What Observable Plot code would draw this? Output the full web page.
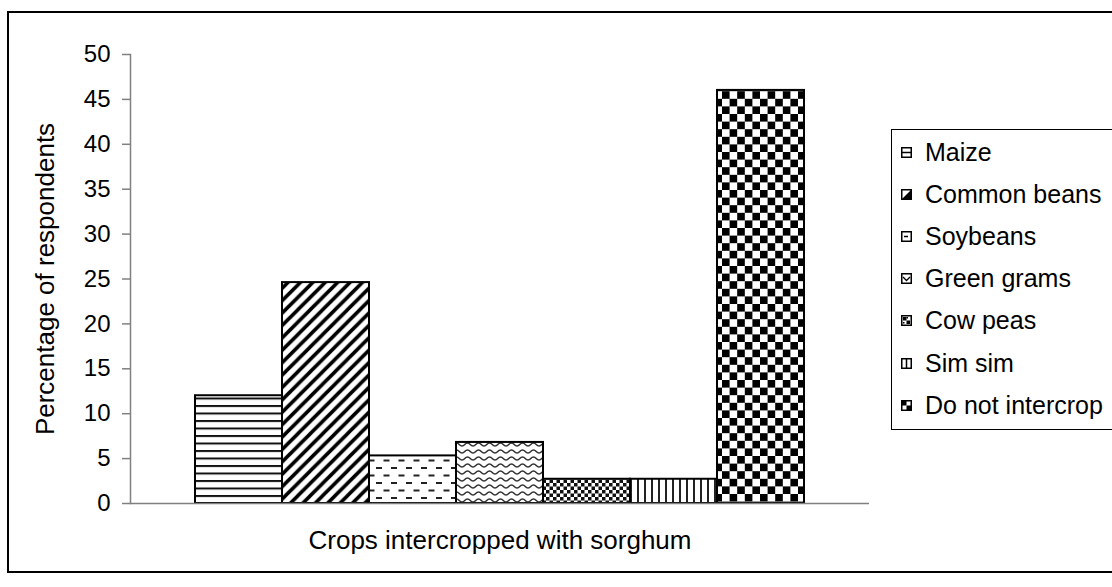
<!DOCTYPE html>
<html>
<head>
<meta charset="utf-8">
<script src="https://cdn.jsdelivr.net/npm/d3@7"></script>
<script src="https://cdn.jsdelivr.net/npm/@observablehq/plot@0.6"></script>
<style>
  html, body { margin: 0; padding: 0; background: #fff; width: 1112px; height: 587px; overflow: hidden; }
  body { position: relative; font-family: "Liberation Sans", Arial, sans-serif; }
  #chart { position: absolute; left: 0; top: 0; }
  #outer { position: absolute; left: 7px; top: 11px; width: 1200px; height: 562px; border: 2px solid #000; box-sizing: border-box; }
  #legend { position: absolute; left: 891px; top: 129px; width: 300px; height: 301px; border: 1px solid #000; box-sizing: border-box; background: #fff; }
  .item { position: absolute; left: 901px; height: 30px; display: flex; align-items: center; font-size: 25px; color: #000; white-space: nowrap; }
  .item svg { width: 11px; height: 11px; margin-right: 13px; }
</style>
</head>
<body>
<svg width="0" height="0" style="position:absolute">
  <defs>
    <pattern id="p-maize" patternUnits="userSpaceOnUse" width="8" height="7.5">
      <rect width="8" height="7.5" fill="#fff"/>
      <rect y="0" width="8" height="2" fill="#111"/>
    </pattern>
    <pattern id="p-beans" patternUnits="userSpaceOnUse" width="12.4" height="12.4">
      <rect width="12.4" height="12.4" fill="#fff"/>
      <path d="M-3.1,3.1 L3.1,-3.1 M0,12.4 L12.4,0 M9.3,15.5 L15.5,9.3" stroke="#000" stroke-width="3.6"/>
    </pattern>
    <pattern id="p-soy" patternUnits="userSpaceOnUse" width="15" height="15">
      <rect width="15" height="15" fill="#fff"/>
      <rect x="1" y="2" width="6" height="2" fill="#222"/>
      <rect x="8.5" y="9.5" width="6" height="2" fill="#222"/>
    </pattern>
    <pattern id="p-grams" patternUnits="userSpaceOnUse" width="11" height="7">
      <rect width="11" height="7" fill="#fff"/>
      <path d="M-2.75,3.5 Q0,6.5 2.75,3.5 Q5.5,0.5 8.25,3.5 Q11,6.5 13.75,3.5" fill="none" stroke="#333" stroke-width="1.6"/>
    </pattern>
    <pattern id="p-cow" patternUnits="userSpaceOnUse" width="7" height="7">
      <rect width="7" height="7" fill="#fff"/>
      <rect x="0" y="0" width="3.5" height="3.5" fill="#111"/>
      <rect x="3.5" y="3.5" width="3.5" height="3.5" fill="#111"/>
    </pattern>
    <pattern id="p-sim" patternUnits="userSpaceOnUse" width="7" height="8">
      <rect width="7" height="8" fill="#fff"/>
      <rect x="0" y="0" width="2" height="8" fill="#222"/>
    </pattern>
    <pattern id="p-none" patternUnits="userSpaceOnUse" width="15.2" height="15.2">
      <rect width="15.2" height="15.2" fill="#fff"/>
      <rect x="7.6" y="0" width="7.6" height="7.6" fill="#000"/>
      <rect x="0" y="7.6" width="7.6" height="7.6" fill="#000"/>
    </pattern>
  </defs>
</svg>
<div id="outer"></div>
<div id="chart"></div>
<div id="legend"></div>
<script>
// ---- data ----
const crops = ["Maize", "Common beans", "Soybeans", "Green grams", "Cow peas", "Sim sim", "Do not intercrop"];
const percentages = [12.0, 24.6, 5.3, 6.8, 2.7, 2.7, 46.0];
const patternIds = ["p-maize", "p-beans", "p-soy", "p-grams", "p-cow", "p-sim", "p-none"];
const yTicks = [0, 5, 10, 15, 20, 25, 30, 35, 40, 45, 50];
const yLabel = "Percentage of respondents";
const xLabel = "Crops intercropped with sorghum";

const data = crops.map((c, i) => ({crop: c, pct: percentages[i]}));

const chart = Plot.plot({
  width: 1112,
  height: 587,
  marginLeft: 130,
  marginRight: 243,
  marginTop: 54,
  marginBottom: 84,
  style: {fontFamily: "'Liberation Sans', Arial, sans-serif", background: "transparent", color: "#000"},
  x: {domain: crops, paddingInner: 0, paddingOuter: 0.747, axis: null},
  y: {domain: [0, 50], ticks: yTicks},
  color: {domain: crops, range: patternIds.map(id => `url(#${id})`)},
  marks: [
    Plot.barY(data, {x: "crop", y: "pct", fill: "crop", stroke: "#000", strokeWidth: 2}),
    Plot.ruleY([0], {stroke: "#808080", strokeWidth: 1.5}),
    Plot.frame({anchor: "left", stroke: "#808080", strokeWidth: 1.5}),
    Plot.axisY({ticks: yTicks, tickSize: 8, tickPadding: 12, label: null, stroke: "#808080", strokeWidth: 1.5, fill: "#000", fontSize: 24}),
    Plot.text([yLabel], {frameAnchor: "left", textAnchor: "middle", rotate: -90, dx: -85, fontSize: 26, fill: "#000"}),
    Plot.text([xLabel], {frameAnchor: "bottom", textAnchor: "middle", dy: 45, fontSize: 26, fill: "#000"})
  ]
});
document.getElementById("chart").appendChild(chart);

// legend
const icons = [
  '<rect x="0.75" y="0.75" width="9.5" height="9.5" fill="#fff" stroke="#000" stroke-width="1.5"/><line x1="1" y1="5.5" x2="10" y2="5.5" stroke="#000" stroke-width="1.5"/>',
  '<rect x="0.75" y="0.75" width="9.5" height="9.5" fill="#fff" stroke="#000" stroke-width="1.5"/><path d="M10,1 L10,10 L1,10 Z" fill="#000"/>',
  '<rect x="0.75" y="0.75" width="9.5" height="9.5" fill="#fff" stroke="#000" stroke-width="1.5"/><line x1="3" y1="5.5" x2="7" y2="5.5" stroke="#000" stroke-width="1.5"/>',
  '<rect x="0.75" y="0.75" width="9.5" height="9.5" fill="#fff" stroke="#000" stroke-width="1.5"/><path d="M2,4 L5.5,7.5 L9,4" fill="none" stroke="#000" stroke-width="1.3"/>',
  '<rect x="0.75" y="0.75" width="9.5" height="9.5" fill="#fff" stroke="#000" stroke-width="1.5"/><rect x="2" y="2" width="3.5" height="3.5" fill="#000"/><rect x="5.5" y="5.5" width="3.5" height="3.5" fill="#000"/><rect x="5.5" y="2" width="1.5" height="1.5" fill="#000"/><rect x="2" y="7" width="1.5" height="1.5" fill="#000"/>',
  '<rect x="0.75" y="0.75" width="9.5" height="9.5" fill="#fff" stroke="#000" stroke-width="1.5"/><line x1="5.5" y1="1" x2="5.5" y2="10" stroke="#000" stroke-width="1.5"/>',
  '<rect x="0.75" y="0.75" width="9.5" height="9.5" fill="#fff" stroke="#000" stroke-width="1.5"/><rect x="1" y="1" width="4.5" height="4.5" fill="#000"/><rect x="5.5" y="5.5" width="4.5" height="4.5" fill="#000"/>'
];
crops.forEach((c, i) => {
  const d = document.createElement("div");
  d.className = "item";
  d.style.top = (152 + 42.2 * i - 15) + "px";
  d.innerHTML = `<svg viewBox="0 0 11 11">${icons[i]}</svg><span>${c}</span>`;
  document.body.appendChild(d);
});
</script>
</body>
</html>
